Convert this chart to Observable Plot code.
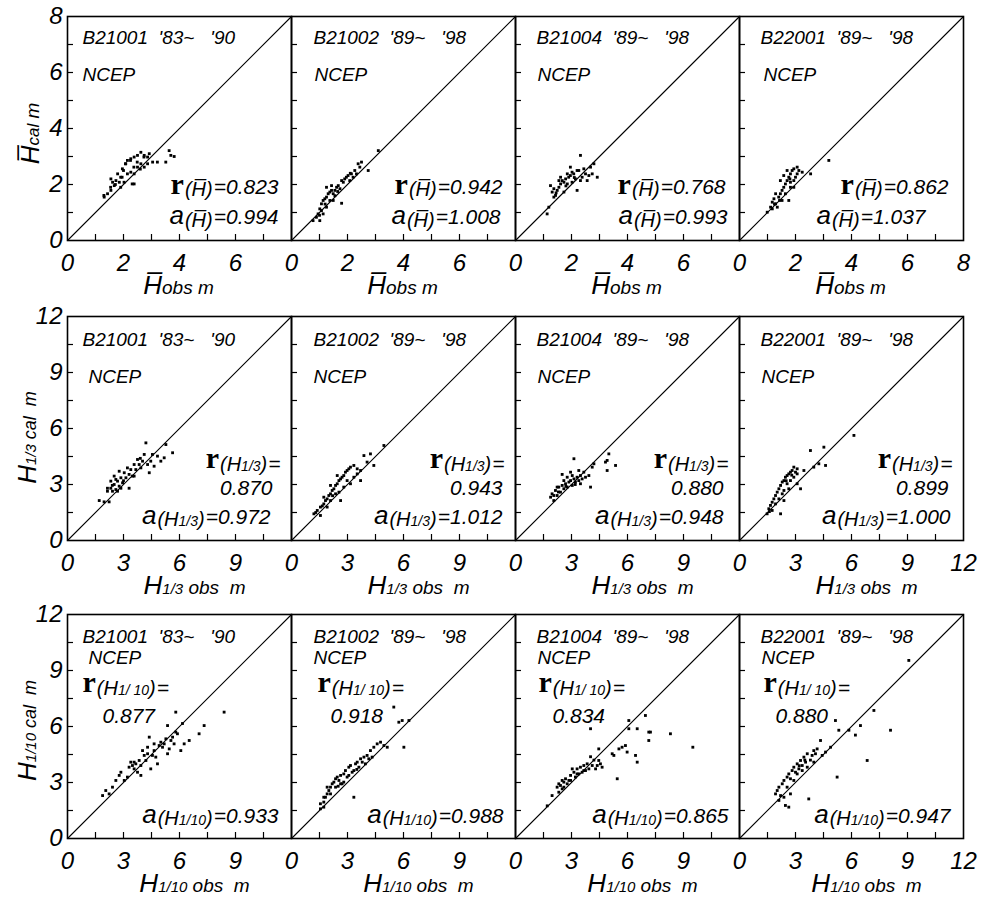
<!DOCTYPE html>
<html><head><meta charset="utf-8">
<script src="https://cdn.jsdelivr.net/npm/d3@7"></script>
<script src="https://cdn.jsdelivr.net/npm/@observablehq/plot@0.6"></script>
<style>
body{margin:0;background:#fff;}
#chart{position:relative;width:982px;height:898px;overflow:hidden;}
#chart > svg{position:absolute;}
#chart svg [aria-label^="x-axis"] text, #chart svg [aria-label^="y-axis"] text,
#chart svg [aria-label^="x-axis"], #chart svg [aria-label^="y-axis"]{font-style:italic;font-family:'Liberation Sans',Arial,sans-serif;font-size:24px;}
</style></head><body><div id="chart"></div>
<script>
// ---------------- data ----------------
const stations = ["B21001", "B21002", "B21004", "B22001"];
const periods = ["'83~   '90", "'89~   '98", "'89~   '98", "'89~   '98"];
const rValues = [["0.823","0.942","0.768","0.862"],["0.870","0.943","0.880","0.899"],["0.877","0.918","0.834","0.880"]];
const aValues = [["0.994","1.008","0.993","1.037"],["0.972","1.012","0.948","1.000"],["0.933","0.988","0.865","0.947"]];
const axisMax = [8, 12, 12];
const labelTicks = [[0,2,4,6,8],[0,3,6,9,12],[0,3,6,9,12]];
const minorTicks = [[1,2,3,4,5,6,7],[1.5,3,4.5,6,7.5,9,10.5],[1.5,3,4.5,6,7.5,9,10.5]];

// mean wave height H̄ (obs, cal)
const meanB21001 = [[1.31,1.55],[1.43,1.67],[1.55,1.79],[1.67,1.96],[1.73,2.14],[1.85,2.08],[1.9,2.26],[2.02,2.08],[1.79,2.38],[1.96,2.56],[2.08,2.74],[2.14,2.86],[2.26,2.92],[2.38,2.38],[2.38,2.02],[2.5,2.62],[2.62,2.74],[2.62,3.15],[2.74,3.04],[2.86,2.98],[2.86,2.74],[2.74,2.62],[2.92,3.1],[3.04,2.8],[3.21,2.8],[3.51,2.8],[3.63,3.21],[3.69,3.04],[3.81,3.0],[2.14,2.38],[2.26,2.44],[1.9,1.9],[1.61,2.08],[1.55,2.2],[2.38,2.98],[2.5,3.04],[1.3,1.61],[1.54,1.9],[2.0,2.5],[2.07,2.74],[2.25,2.86],[2.37,2.62],[2.49,2.8],[2.73,2.98],[2.31,2.02],[1.95,2.26],[1.71,2.0],[2.6,2.55]];
const meanB21002 = [[0.77,0.71],[0.89,0.83],[0.95,0.95],[1.01,1.13],[1.07,1.31],[1.13,1.43],[1.19,1.49],[1.25,1.55],[1.31,1.67],[1.37,1.73],[1.43,1.79],[1.49,1.67],[1.55,1.79],[1.61,1.9],[1.67,1.96],[1.79,1.33],[1.79,2.14],[1.85,2.08],[1.9,2.2],[1.96,2.26],[2.02,2.32],[2.14,2.38],[2.2,2.26],[2.26,2.5],[2.38,2.74],[2.5,2.8],[2.74,2.5],[3.1,3.21],[1.07,1.07],[1.25,1.19],[1.37,1.43],[1.13,0.95],[1.49,1.43],[1.73,1.85],[2.08,2.14],[1.01,0.71],[1.25,1.9],[1.43,1.96],[2.32,2.38],[2.44,2.62],[1.2,1.3],[1.55,1.6],[1.0,0.9],[1.65,1.75],[2.1,2.4]];
const meanB21004 = [[1.25,1.96],[1.31,1.73],[1.37,1.55],[1.43,1.61],[1.49,1.79],[1.55,1.9],[1.61,2.02],[1.67,2.14],[1.73,2.08],[1.79,2.2],[1.85,2.02],[1.9,2.26],[1.96,2.32],[2.02,2.44],[2.08,2.38],[2.14,2.2],[2.2,1.79],[2.26,2.5],[2.32,3.04],[2.38,2.26],[2.44,2.56],[2.5,2.38],[2.56,2.14],[2.62,2.32],[2.68,2.62],[2.8,2.74],[2.92,2.26],[1.19,1.19],[1.13,0.95],[1.73,1.73],[1.55,2.14],[1.85,2.38],[2.02,2.08],[2.2,2.5],[1.61,2.26],[1.37,1.85],[2.32,2.14],[2.74,2.38],[1.96,2.62],[1.45,1.7],[1.8,1.95],[2.1,2.25]];
const meanB22001 = [[0.99,1.01],[1.11,1.19],[1.17,1.37],[1.23,1.49],[1.29,1.31],[1.35,1.19],[1.4,1.55],[1.46,1.67],[1.52,1.79],[1.46,2.14],[1.58,1.9],[1.64,2.02],[1.7,2.14],[1.76,2.26],[1.82,2.38],[1.88,2.5],[1.94,2.56],[2.0,2.26],[2.06,2.38],[1.76,1.43],[1.82,2.08],[1.94,2.14],[2.12,2.5],[2.54,2.38],[3.19,2.86],[1.64,1.67],[1.52,1.43],[1.29,1.67],[1.7,2.5],[1.58,2.32],[2.06,2.62],[2.24,2.44],[1.17,1.13],[1.82,1.9],[1.94,1.9],[1.43,1.43],[1.25,1.3],[1.8,2.2]];

// significant wave height H1/3 (obs, cal)
const thirdB21001 = [[1.7,2.14],[1.96,2.07],[2.23,2.07],[2.14,2.8],[2.32,2.8],[2.41,2.64],[2.5,3.0],[2.59,2.73],[2.68,3.18],[2.77,2.91],[2.86,3.36],[2.95,3.09],[3.04,3.63],[3.13,3.36],[3.21,3.89],[3.3,3.54],[3.39,3.8],[3.48,3.45],[3.57,4.07],[3.66,3.8],[3.75,4.34],[3.84,4.07],[3.93,3.89],[4.02,4.25],[4.11,4.61],[4.2,5.23],[4.29,4.07],[4.38,3.63],[4.46,4.25],[4.55,4.61],[4.64,3.98],[4.82,4.52],[5.0,4.25],[5.18,4.43],[5.27,5.14],[5.63,4.7],[2.32,3.18],[2.5,3.45],[2.77,3.71],[2.14,2.64],[2.86,2.8],[3.3,2.8],[3.57,3.45],[2.68,2.64],[2.59,3.27],[2.4,2.95],[3.0,3.2],[3.9,4.4]];
const thirdB21002 = [[1.2,1.43],[1.38,1.61],[1.55,1.79],[1.73,1.96],[1.82,2.14],[1.91,2.23],[2.0,2.41],[2.09,2.5],[2.18,2.68],[2.27,2.77],[2.36,2.95],[2.45,3.04],[2.54,3.21],[2.63,3.3],[2.71,3.39],[2.8,3.48],[2.89,3.66],[2.98,3.75],[3.07,3.84],[3.16,3.93],[3.34,4.02],[3.52,3.84],[3.7,3.75],[3.88,4.55],[4.05,4.2],[4.23,4.64],[4.41,4.02],[4.95,5.09],[2.63,2.14],[2.09,2.14],[2.36,2.5],[1.73,2.32],[2.8,2.86],[3.34,3.39],[3.16,3.04],[1.55,1.34],[1.91,1.79],[2.54,2.59],[2.98,3.21],[3.52,3.57],[2.45,3.48],[2.09,2.95],[3.7,3.21],[1.3,1.5],[1.65,1.85],[2.2,2.4]];
const thirdB21004 = [[1.88,2.32],[1.96,2.5],[2.05,2.14],[2.14,2.68],[2.23,2.41],[2.32,2.86],[2.41,2.59],[2.5,2.95],[2.59,2.77],[2.68,3.04],[2.77,2.86],[2.86,3.13],[2.95,3.21],[3.04,2.95],[3.13,3.3],[3.21,3.13],[3.3,3.39],[3.39,3.21],[3.48,3.48],[3.57,3.3],[3.66,3.66],[3.75,3.39],[3.93,3.48],[4.02,2.86],[4.11,3.93],[4.2,4.11],[3.13,4.38],[4.82,4.2],[4.91,4.29],[5.0,4.64],[4.91,3.75],[5.36,4.02],[2.5,3.54],[2.77,3.39],[2.95,3.66],[3.39,3.75],[2.59,3.21],[2.23,2.86],[2.05,2.41],[3.48,3.04],[3.04,3.48],[2.3,2.6],[2.7,2.9],[3.2,3.0]];
const thirdB22001 = [[1.48,1.43],[1.57,1.7],[1.66,1.88],[1.75,2.05],[1.84,2.23],[1.93,2.41],[2.02,2.59],[2.11,2.77],[2.2,2.95],[2.29,3.13],[2.38,3.21],[2.46,3.39],[2.55,3.48],[2.64,3.57],[2.73,3.66],[2.82,3.75],[2.91,3.39],[3.0,3.66],[3.09,3.57],[3.27,2.77],[3.45,3.75],[3.8,4.82],[3.98,3.93],[4.25,4.11],[4.52,5.0],[4.61,4.02],[6.13,5.63],[2.2,1.43],[1.93,1.96],[2.38,2.68],[2.55,3.04],[2.73,3.21],[2.38,2.14],[2.11,2.23],[2.91,3.93],[3.09,3.84],[1.75,1.61],[2.64,2.77],[2.29,2.5],[3.09,3.04],[1.6,1.55],[2.5,3.2],[2.8,3.5]];

// highest one-tenth wave height H1/10 (obs, cal)
const tenthB21001 = [[1.88,2.3],[2.05,2.57],[2.23,2.39],[2.41,2.75],[2.59,3.11],[2.77,3.38],[2.86,3.55],[3.04,3.11],[3.21,3.29],[3.3,3.82],[3.39,4.09],[3.48,3.91],[3.57,3.73],[3.66,4.0],[3.75,3.55],[3.84,4.18],[3.93,3.38],[4.02,4.71],[4.11,4.45],[4.2,4.18],[4.29,4.89],[4.38,5.43],[4.46,3.73],[4.55,4.45],[4.64,4.71],[4.73,4.36],[4.82,4.0],[4.91,4.98],[5.0,5.16],[5.09,4.89],[5.18,5.07],[5.27,5.34],[5.36,6.05],[5.45,4.8],[5.54,5.25],[5.63,5.43],[5.71,5.07],[5.8,5.7],[5.89,5.61],[6.07,4.71],[6.16,6.16],[6.25,5.07],[6.52,5.25],[7.05,5.61],[7.32,6.05],[8.39,6.77],[5.8,6.77],[4.29,4.54],[3.93,3.91],[3.57,4.09],[4.64,5.07],[5.36,4.54]];
const tenthB21002 = [[1.55,1.86],[1.73,1.95],[1.82,2.21],[1.91,2.39],[2.0,2.57],[2.09,2.75],[2.18,2.93],[2.27,3.02],[2.36,3.2],[2.45,3.29],[2.54,3.11],[2.63,3.38],[2.71,2.93],[2.8,3.46],[2.89,3.64],[2.98,3.29],[3.07,3.82],[3.16,3.91],[3.25,3.55],[3.34,2.21],[3.43,4.0],[3.52,4.09],[3.61,3.82],[3.7,4.27],[3.79,4.09],[3.88,4.36],[3.96,4.0],[4.05,4.45],[4.14,4.27],[4.23,4.71],[4.32,4.36],[4.41,4.89],[4.59,5.07],[4.77,5.16],[4.95,4.98],[5.13,4.89],[6.02,4.89],[5.75,6.23],[5.93,6.32],[6.29,6.32],[5.48,7.04],[2.09,2.39],[2.36,2.75],[2.63,2.93],[2.8,3.02],[3.07,3.38],[3.34,3.64],[1.73,2.21],[1.91,2.75],[1.73,1.68],[1.55,1.59],[2.5,2.8],[3.5,3.7]];
const tenthB21004 = [[1.96,2.3],[2.23,2.75],[2.32,2.93],[2.41,2.84],[2.5,2.66],[2.59,3.02],[2.68,3.2],[2.77,2.93],[2.86,3.11],[2.95,3.38],[3.13,3.55],[3.21,3.29],[3.3,3.73],[3.39,3.46],[3.48,3.82],[3.57,3.55],[3.66,3.91],[3.75,3.64],[3.84,4.0],[3.93,3.73],[4.02,4.38],[4.11,3.91],[4.2,4.2],[4.29,3.73],[4.38,3.91],[4.46,4.18],[4.55,4.0],[4.64,3.82],[4.02,5.88],[4.46,4.8],[5.18,4.54],[5.27,4.45],[5.45,3.2],[5.54,4.8],[5.71,4.89],[5.89,4.98],[5.98,4.63],[6.07,5.88],[6.07,6.32],[6.43,4.45],[6.52,5.88],[6.52,4.09],[6.96,6.59],[7.14,5.7],[7.23,5.7],[7.14,5.25],[8.3,5.61],[9.5,4.89],[2.32,2.48],[2.59,2.75],[2.95,3.11],[3.3,3.46],[3.66,3.64],[2.5,3.11],[3.04,3.73],[1.7,1.75]];
const tenthB22001 = [[1.93,2.39],[2.02,2.57],[2.11,2.75],[2.2,2.3],[2.29,2.93],[2.38,3.11],[2.46,1.77],[2.55,3.29],[2.64,3.46],[2.73,3.2],[2.82,3.64],[2.91,3.82],[3.0,3.55],[3.09,4.0],[3.18,3.73],[3.27,4.18],[3.36,3.91],[3.45,4.36],[3.54,4.09],[3.63,4.54],[3.71,2.12],[3.8,4.2],[3.89,4.45],[3.98,4.71],[4.07,4.54],[4.16,4.8],[4.34,5.25],[4.43,4.45],[4.61,4.63],[4.88,4.89],[5.14,6.32],[5.23,3.29],[5.32,5.8],[5.86,5.8],[6.21,5.54],[6.48,6.05],[6.84,4.18],[7.2,6.86],[8.09,5.8],[9.07,9.54],[2.38,2.21],[2.55,2.75],[2.91,3.11],[3.09,3.46],[3.36,3.64],[3.63,3.82],[3.98,4.09],[2.11,2.04],[2.73,2.39],[2.64,1.68],[3.2,3.9],[3.5,4.2]];

const rowPts = [
  [meanB21001, meanB21002, meanB21004, meanB22001],
  [thirdB21001, thirdB21002, thirdB21004, thirdB22001],
  [tenthB21001, tenthB21002, tenthB21004, tenthB22001]
];

// ---------------- layout ----------------
const P = 224;                       // panel size (px)
const frameX = [67, 291, 515, 739];
const frameY = [16, 316, 614];
const ML = 67, MR = 20, MT = 16, MB = 60;
const SANS = "'Liberation Sans', Arial, Helvetica, sans-serif";
const SERIF = "'Liberation Serif', 'Times New Roman', serif";
const OVER = "\u0305"; // combining overline

const ctx = document.createElement("canvas").getContext("2d");
function S(text, size, o = {}) {
  return {text, size, family: o.family || SANS, weight: o.weight || "normal", style: o.style || "italic",
          shift: o.shift || 0, gap: o.gap || 0};
}
function segW(s) { ctx.font = `${s.style} ${s.weight} ${s.size}px ${s.family}`; return ctx.measureText(s.text).width; }
function totalW(segs) { return segs.reduce((a, s) => a + segW(s) + s.gap, 0); }
function txt(t, px, py, s, rot) {
  return Plot.text([t], {text: d => d, frameAnchor: "top-left", dx: px, dy: py, textAnchor: "start", lineAnchor: "bottom",
    fontSize: s.size, fontFamily: s.family, fontStyle: s.style, fontWeight: s.weight, rotate: rot ? -90 : 0, fill: "black"});
}
// rich text: x,y relative to frame top-left; y = baseline
function rich(segs, x, y, align = "start", rot = false) {
  const L = totalW(segs);
  let off = align === "start" ? 0 : align === "end" ? -L : -L / 2;
  const out = [];
  for (const s of segs) {
    if (!rot) out.push(txt(s.text, x + off, y + s.shift, s, false));
    else out.push(txt(s.text, x + s.shift, y - off, s, true));
    off += segW(s) + s.gap;
  }
  return out;
}

const rSym = () => S("r", 30, {family: SERIF, weight: "bold", style: "normal", gap: 1});
const aSym = () => S("a", 26, {gap: 1});
function paren(sub, sh, over) {
  const segs = [S("(", 20, {shift: sh}), S(over ? "H" + OVER : "H", 20, {shift: sh})];
  if (sub) segs.push(S(sub, 14, {shift: sh}));
  segs.push(S(")", 20, {shift: sh, gap: 1}));
  return segs;
}

const titleX = [15, 22, 21, 21];
const ncepX = [[15, 23, 22, 24], [21, 22, 22, 22], [21, 22, 22, 22]];
const titleY = [27, 29, 28], ncepY = [64, 66, 49];

function annotations(r, c) {
  const m = [];
  m.push(txt(`${stations[c]}  ${periods[c]}`, titleX[c], titleY[r], S("", 19), false));
  m.push(txt("NCEP", ncepX[r][c], ncepY[r], S("", 19), false));
  const rv = rValues[r][c], av = aValues[r][c];
  if (r === 0) {
    m.push(...rich([rSym(), ...paren(null, 2, true), S("=" + rv, 21)], P - [13, 13, 14, 15][c], 177, "end"));
    m.push(...rich([aSym(), ...paren(null, 3, true), S("=" + av, 21)], P - [13, 15, 12, 38][c], 207, "end"));
  } else if (r === 1) {
    m.push(...rich([rSym(), ...paren("1/3", 3, false), S("=", 21, {shift: 3})], P - 11, 151, "end"));
    m.push(...rich([S(rv, 21)], P - [19, 13, 16, 15][c], 178, "end"));
    m.push(...rich([aSym(), ...paren("1/3", 2, false), S("=" + av, 21)], P - [21, 13, 16, 13][c], 207, "end"));
  } else {
    m.push(...rich([rSym(), ...paren("1/ 10", 3, false), S("=", 21, {shift: 3})], [15, 26, 23, 24][c], 77, "start"));
    m.push(...rich([S(rv, 21)], [35, 39, 37, 36][c], 108, "start"));
    m.push(...rich([aSym(), ...paren("1/10", 2, false), S("=" + av, 21)], P - [13, 12, 11, 13][c], 208, "end"));
  }
  // x axis title
  const xl = r === 0 ? [S("H" + OVER, 26), S("obs m", 19)]
           : [S("H", 26), S(r === 1 ? "1/3" : "1/10", 15), S(" obs  m", 19)];
  m.push(...rich(xl, P / 2 + (r === 0 ? -1 : 15), P + 53, "middle"));
  // y axis title (first column only)
  if (c === 0) {
    const yl = r === 0 ? [S("H" + OVER, 26), S("cal", 17), S(" m", 19)]
             : [S("H", 26), S(r === 1 ? "1/3" : "1/10", 15), S(" cal  m", 18)];
    m.push(...rich(yl, [-29, -32, -32][r], [117, 121, 116][r], "middle", true));
  }
  return m;
}

const chart = document.getElementById("chart");
for (let r = 0; r < 3; r++) {
  for (let c = 0; c < 4; c++) {
    const max = axisMax[r];
    const svg = Plot.plot({
      width: P + ML + MR, height: P + MT + MB,
      marginLeft: ML, marginRight: MR, marginTop: MT, marginBottom: MB,
      style: {background: "transparent", overflow: "visible", fontFamily: SANS, fontSize: "24px", fontStyle: "italic", color: "black"},
      x: {domain: [0, max], ticks: c === 3 ? labelTicks[r] : labelTicks[r].slice(0, -1), tickSize: 0, tickPadding: 13, label: null, tickFormat: d => String(d)},
      y: c === 0 ? {domain: [0, max], ticks: labelTicks[r], tickSize: 0, tickPadding: 5, label: null, tickFormat: d => String(d)}
                 : {domain: [0, max], axis: null},
      marks: [
        Plot.tickX(minorTicks[r], {x: d => d, insetTop: P - 6, stroke: "black", strokeWidth: 1.2}),
        Plot.tickY(minorTicks[r], {y: d => d, insetRight: P - 6, stroke: "black", strokeWidth: 1.2}),
        Plot.line([[0, 0], [max, max]], {stroke: "black", strokeWidth: 1.1}),
        Plot.dot(rowPts[r][c], {x: d => d[0], y: d => d[1], symbol: "square", r: 1.6, fill: "black"}),
        Plot.frame({stroke: "black", strokeWidth: 1.6}),
        ...annotations(r, c)
      ]
    });
    svg.style.left = (frameX[c] - ML) + "px";
    svg.style.top = (frameY[r] - MT) + "px";
    chart.appendChild(svg);
  }
}
</script></body></html>
